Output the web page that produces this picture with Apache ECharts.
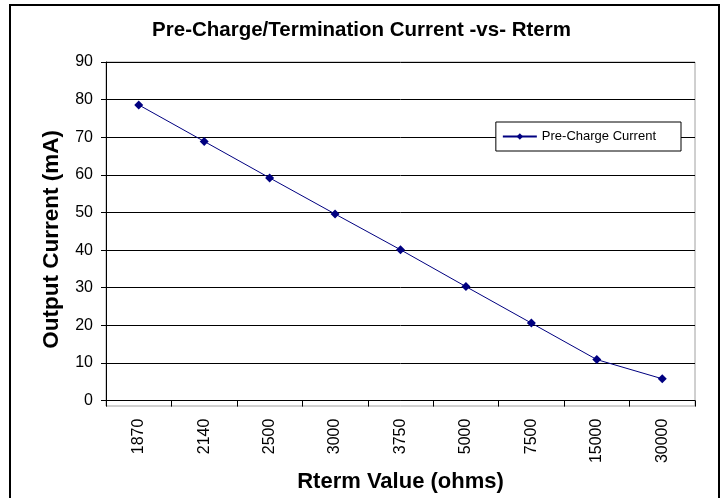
<!DOCTYPE html>
<html><head><meta charset="utf-8">
<script src="https://cdn.jsdelivr.net/npm/echarts@6/dist/echarts.min.js"></script>
<style>html,body{margin:0;padding:0;background:#fff}#c{width:723px;height:498px}</style>
</head><body><div id="c"></div>
<script>
const categories = ['1870','2140','2500','3000','3750','5000','7500','15000','30000'];
const preChargeCurrent = [78.6, 68.9, 59.2, 49.6, 40.1, 30.3, 20.6, 10.9, 5.8];
const yTicks = {min: 0, max: 90, interval: 10};

const chart = echarts.init(document.getElementById('c'), null, {renderer: 'canvas'});
const F = 'Liberation Sans, Arial, sans-serif';
chart.setOption({
  animation: false,
  backgroundColor: '#fff',
  graphic: [{
    type: 'rect', shape: {x: 10, y: 5, width: 709, height: 500},
    style: {fill: 'none', stroke: '#000', lineWidth: 2}, silent: true, z: -1
  }, {
    type: 'rect', shape: {x: 106, y: 62, width: 589, height: 344},
    style: {fill: 'none', stroke: '#a0a0a0', lineWidth: 1}, silent: true, z: -1
  }],
  title: {
    text: 'Pre-Charge/Termination Current -vs- Rterm',
    left: 'center', top: 15,
    textStyle: {fontFamily: F, fontSize: 20.5, fontWeight: 'bold', color: '#000'}
  },
  legend: {
    data: ['Pre-Charge Current'],
    right: 42, top: 122,
    padding: [8, 25, 8, 6],
    borderColor: '#000', borderWidth: 1, borderRadius: 0,
    backgroundColor: '#fff',
    itemWidth: 34, itemHeight: 8, itemGap: 4,
    textStyle: {fontFamily: F, fontSize: 13, color: '#000'}
  },
  grid: {left: 106, right: 28, top: 62, bottom: 92},
  xAxis: {
    type: 'category', data: categories, boundaryGap: true,
    name: 'Rterm Value (ohms)', nameLocation: 'middle', nameGap: 64,
    nameTextStyle: {fontFamily: F, fontSize: 22, fontWeight: 'bold', color: '#000'},
    axisLine: {lineStyle: {color: '#000', width: 1}},
    axisTick: {show: true, alignWithLabel: false, length: 6, lineStyle: {color: '#000'}},
    axisLabel: {rotate: 90, margin: 18, fontFamily: F, fontSize: 16, color: '#000'}
  },
  yAxis: {
    type: 'value', min: yTicks.min, max: yTicks.max, interval: yTicks.interval,
    name: 'Output Current (mA)', nameLocation: 'middle', nameGap: 43,
    nameTextStyle: {fontFamily: F, fontSize: 22.5, fontWeight: 'bold', color: '#000', padding: [0, 16, 0, 0]},
    axisLine: {show: true, lineStyle: {color: '#000', width: 1}},
    axisTick: {show: true, length: 5, lineStyle: {color: '#000'}},
    axisLabel: {margin: 13, fontFamily: F, fontSize: 16, color: '#000'},
    splitLine: {lineStyle: {color: '#000', width: 1}}
  },
  series: [{
    name: 'Pre-Charge Current', type: 'line', data: preChargeCurrent,
    symbol: 'diamond', symbolSize: 9,
    lineStyle: {color: '#000080', width: 1},
    itemStyle: {color: '#000080'}
  }]
});
</script></body></html>
